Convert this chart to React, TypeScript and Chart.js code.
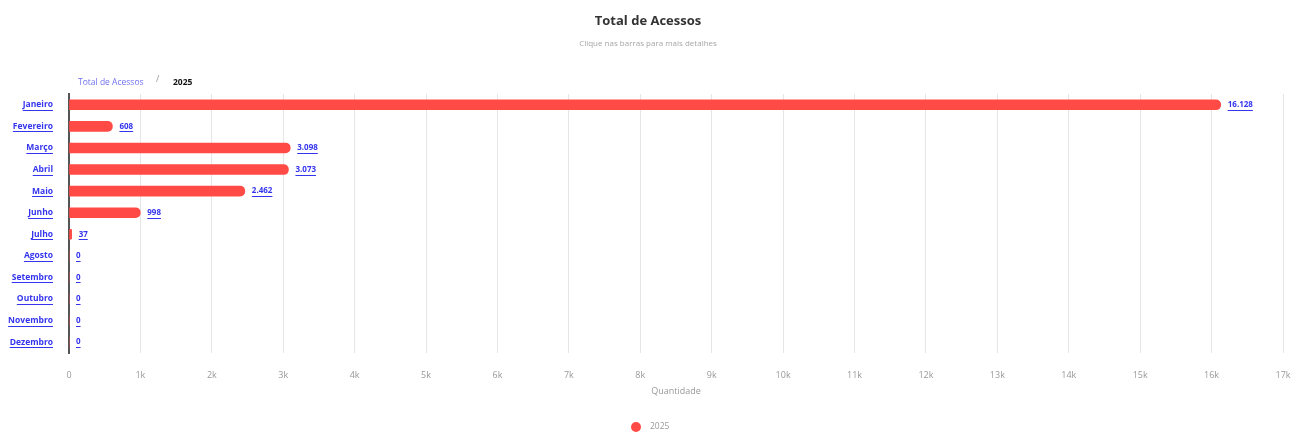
import React, { useEffect, useRef } from "react";
import { Chart, registerables } from "chart.js";

Chart.register(...registerables);

const months = ["Janeiro", "Fevereiro", "Março", "Abril", "Maio", "Junho", "Julho", "Agosto", "Setembro", "Outubro", "Novembro", "Dezembro"];
const accesses2025 = [16128, 608, 3098, 3073, 2462, 998, 37, 0, 0, 0, 0, 0];
const seriesName = "2025";
const chartTitle = "Total de Acessos";
const chartSubtitle = "Clique nas barras para mais detalhes";
const breadcrumbRoot = "Total de Acessos";
const xAxisTitle = "Quantidade";

const FONT = "'Open Sans', 'Noto Sans', sans-serif";
const BAR = "#FF4A46";
const LINK = "#3434EE";
const YPAD = 16;

const fmt = (v: number) => String(v).replace(/\B(?=(\d{3})+(?!\d))/g, ".");

const decorPlugin = {
  id: "decor",
  afterDraw(chart: any) {
    const ctx = chart.ctx as CanvasRenderingContext2D;
    const W = chart.width;
    ctx.save();
    // title
    ctx.textAlign = "center";
    ctx.textBaseline = "middle";
    ctx.fillStyle = "#333333";
    ctx.font = `bold 13px ${FONT}`;
    ctx.fillText(chartTitle, W / 2, 21);
    ctx.fillStyle = "#A6A6A6";
    ctx.font = `8px ${FONT}`;
    ctx.fillText(chartSubtitle, W / 2, 44);
    // breadcrumb
    ctx.textAlign = "left";
    ctx.fillStyle = "#7070F0";
    ctx.font = `8.5px ${FONT}`;
    ctx.fillText(breadcrumbRoot, 78, 83);
    ctx.fillStyle = "#999999";
    ctx.font = `9px ${FONT}`;
    ctx.fillText("/", 156, 79);
    ctx.fillStyle = "#111111";
    ctx.font = `bold 8.5px ${FONT}`;
    ctx.fillText(seriesName, 173, 83);
    // y tick underlines
    const ys = chart.scales.y;
    ctx.strokeStyle = LINK;
    ctx.lineWidth = 1;
    ctx.font = `bold 8.5px ${FONT}`;
    ys.ticks.forEach((_t: any, i: number) => {
      const label = months[i];
      const y = ys.getPixelForTick(i);
      const w = ctx.measureText(label).width;
      const xr = ys.right - YPAD;
      ctx.beginPath();
      ctx.moveTo(xr - w, Math.round(y + 5) + 0.5);
      ctx.lineTo(xr, Math.round(y + 5) + 0.5);
      ctx.stroke();
    });
    // legend
    const ds = chart.data.datasets[0];
    ctx.fillStyle = ds.backgroundColor;
    ctx.beginPath();
    ctx.arc(636, 427, 5, 0, Math.PI * 2);
    ctx.fill();
    ctx.fillStyle = "#999999";
    ctx.font = `8.5px ${FONT}`;
    ctx.textAlign = "left";
    ctx.textBaseline = "middle";
    ctx.fillText(ds.label, 650, 427);
    ctx.restore();
  },
  afterDatasetsDraw(chart: any) {
    const ctx = chart.ctx as CanvasRenderingContext2D;
    const meta = chart.getDatasetMeta(0);
    const data = chart.data.datasets[0].data as number[];
    ctx.save();
    ctx.font = `bold 8px ${FONT}`;
    ctx.fillStyle = LINK;
    ctx.strokeStyle = LINK;
    ctx.lineWidth = 1;
    ctx.textAlign = "left";
    ctx.textBaseline = "middle";
    meta.data.forEach((el: any, i: number) => {
      const txt = fmt(data[i]);
      const x = el.x + 7;
      const y = el.y;
      ctx.fillText(txt, x, y);
      const w = ctx.measureText(txt).width;
      ctx.beginPath();
      ctx.moveTo(x, Math.round(y + 5) + 0.5);
      ctx.lineTo(x + w, Math.round(y + 5) + 0.5);
      ctx.stroke();
    });
    ctx.restore();
  },
};

export default function App() {
  const ref = useRef<HTMLCanvasElement | null>(null);
  useEffect(() => {
    document.body.style.margin = "0";
    const canvas = ref.current!;
    const chart = new Chart(canvas, {
      type: "bar",
      data: {
        labels: months,
        datasets: [
          {
            label: seriesName,
            data: accesses2025,
            backgroundColor: BAR,
            borderRadius: 5,
            borderSkipped: "start",
            barThickness: 10,
          },
        ],
      },
      options: {
        indexAxis: "y",
        responsive: false,
        animation: false,
        devicePixelRatio: 1,
        layout: { padding: { top: 94, right: 13, bottom: 50, left: 0 } },
        plugins: { legend: { display: false }, title: { display: false }, tooltip: { enabled: false } },
        scales: {
          x: {
            min: 0,
            max: 17000,
            afterFit: (s: any) => {
              s.height = 43;
              s.paddingLeft = 0;
              s.paddingRight = 0;
            },
            ticks: {
              stepSize: 1000,
              padding: 17,
              color: "#999999",
              font: { family: FONT, size: 9 },
              maxRotation: 0,
              autoSkip: false,
              callback: (v: any) => (Number(v) === 0 ? "0" : Number(v) / 1000 + "k"),
            },
            grid: { color: "#E6E6E6", drawTicks: false },
            border: { display: false },
            title: {
              display: true,
              text: xAxisTitle,
              color: "#999999",
              font: { family: FONT, size: 9, lineHeight: 1 },
              padding: { top: 0, bottom: 0 },
            },
          },
          y: {
            afterFit: (s: any) => {
              s.width = 69;
              s.paddingTop = 0;
              s.paddingBottom = 0;
            },
            grid: { display: false, drawTicks: false },
            border: { display: true, color: "#555555", width: 2 },
            ticks: {
              padding: YPAD,
              color: LINK,
              font: { family: FONT, size: 8.5, weight: "bold" },
              autoSkip: false,
            },
          },
        },
      },
      plugins: [decorPlugin],
    } as any);
    return () => chart.destroy();
  }, []);
  return <canvas ref={ref} width={1296} height={446} style={{ display: "block" }} />;
}
